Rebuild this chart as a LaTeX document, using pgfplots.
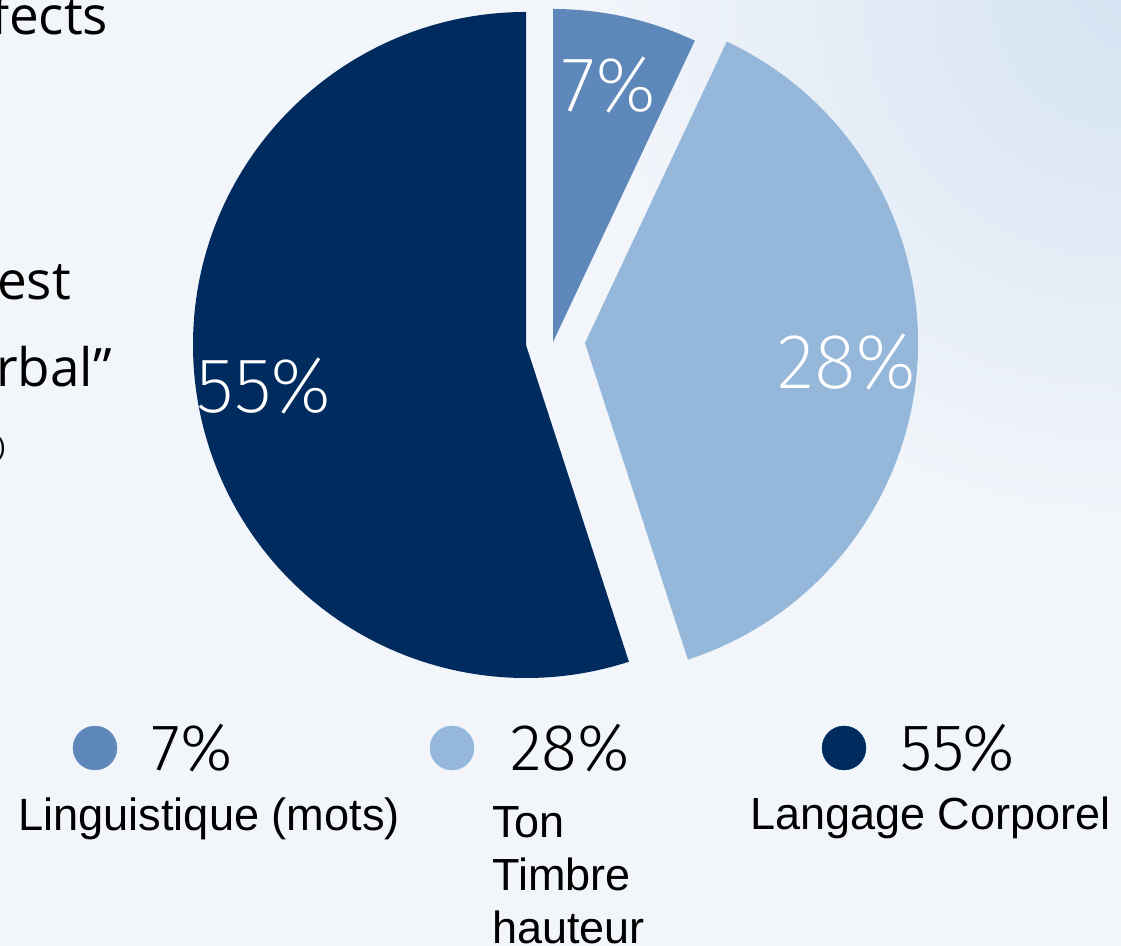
\documentclass[border=0pt]{standalone}
\usepackage{pgfplots}
\pgfplotsset{compat=1.18}
\usepackage{fontspec}
\setmainfont{Liberation Sans}
\IfFontExistsTF{Fira Sans ExtraLight}{\newfontfamily\thinfont{Fira Sans ExtraLight}}{%
  \IfFontExistsTF{Fira Sans Light}{\newfontfamily\thinfont{Fira Sans Light}}{%
    \IfFontExistsTF{Lato Light}{\newfontfamily\thinfont{Lato Light}}{%
      \newfontfamily\thinfont{Liberation Sans}}}}
\IfFontExistsTF{Fira Sans Light}{\newfontfamily\lightfont{Fira Sans Light}}{%
  \IfFontExistsTF{Lato Light}{\newfontfamily\lightfont{Lato Light}}{%
    \newfontfamily\lightfont{Liberation Sans}}}
\newfontfamily\slidefont{Open Sans}
\definecolor{cA}{HTML}{5E87BA}
\definecolor{cB}{HTML}{95B8DA}
\definecolor{cC}{HTML}{002B5F}
\definecolor{bg}{HTML}{F2F5FA}
\definecolor{bgTR}{HTML}{D5E3F2}
% values (percent of the full circle as drawn)
\def\vA{7}\def\vB{38}\def\vC{55}
\pgfmathsetmacro{\aAend}{90-3.6*\vA}
\pgfmathsetmacro{\aBend}{\aAend-3.6*\vB}
\pgfmathsetmacro{\aCend}{90+3.6*\vC}
\begin{document}
\begin{tikzpicture}[x=1bp,y=1bp]
\path[use as bounding box] (0,0) rectangle (1121,946);
\begin{scope}
\clip (0,0) rectangle (1121,946);
\fill[bg] (0,0) rectangle (1121,946);
\shade[inner color=bgTR, outer color=bg] (1121,946) circle (520);
\node[anchor=base west, inner sep=0pt, font=\slidefont\fontsize{53bp}{60bp}\selectfont] at (-9,911) {fects};
\node[anchor=base west, inner sep=0pt, font=\slidefont\fontsize{53bp}{60bp}\selectfont] at (-3,646) {est};
\node[anchor=base west, inner sep=0pt, font=\slidefont\fontsize{53bp}{60bp}\selectfont] at (-4,559) {rbal”};
\node[anchor=base west, inner sep=0pt, font=\fontsize{26bp}{30bp}\selectfont\rmfamily] at (-3,490) {)};
\end{scope}
\begin{axis}[at={(0,0)}, anchor=south west, x=1bp, y=1bp,
  xmin=0, xmax=1121, ymin=0, ymax=946, hide axis, clip=false]
% pie slices
\addplot[draw=none, fill=cA] coordinates {(553,604) (553,937)}
  arc[start angle=90, end angle=\aAend, radius=333bp] -- cycle;
\addplot[draw=none, fill=cB] coordinates {(585,603) (726.8,904.4)}
  arc[start angle=\aAend, end angle=\aBend, radius=333bp] -- cycle;
\addplot[draw=none, fill=cC] coordinates {(526,601) (526,934)}
  arc[start angle=90, end angle=\aCend, radius=333bp] -- cycle;
% slice labels
\node[text=white, font=\thinfont\fontsize{78bp}{80bp}\selectfont] at (axis cs:609,861) {7\%};
\node[text=white, font=\thinfont\fontsize{78bp}{80bp}\selectfont] at (axis cs:847,584) {28\%};
\node[text=white, font=\thinfont\fontsize{78bp}{80bp}\selectfont] at (axis cs:264,560) {55\%};
% legend markers
\addplot[only marks, mark=*, mark size=22bp, color=cA] coordinates {(95,198)};
\addplot[only marks, mark=*, mark size=22bp, color=cB] coordinates {(452,198)};
\addplot[only marks, mark=*, mark size=22bp, color=cC] coordinates {(844,198)};
% legend texts
\node[anchor=base west, inner sep=0pt, font=\lightfont\fontsize{66bp}{68bp}\selectfont] at (axis cs:151,175) {7\%};
\node[anchor=base west, inner sep=0pt, font=\lightfont\fontsize{66bp}{68bp}\selectfont] at (axis cs:510,175) {28\%};
\node[anchor=base west, inner sep=0pt, font=\lightfont\fontsize{66bp}{68bp}\selectfont] at (axis cs:900,175) {55\%};
\node[anchor=base west, inner sep=0pt, font=\fontsize{45.2bp}{53bp}\selectfont] at (axis cs:18,115) {Linguistique (mots)};
\node[anchor=base west, inner sep=0pt, font=\fontsize{45bp}{53bp}\selectfont] at (axis cs:750,116) {Langage Corporel};
\node[anchor=base west, inner sep=0pt, font=\fontsize{45bp}{53bp}\selectfont] at (axis cs:492,108) {Ton};
\node[anchor=base west, inner sep=0pt, font=\fontsize{45bp}{53bp}\selectfont] at (axis cs:492,55) {Timbre};
\node[anchor=base west, inner sep=0pt, font=\fontsize{45bp}{53bp}\selectfont] at (axis cs:492,2) {hauteur};
\end{axis}
\end{tikzpicture}
\end{document}
